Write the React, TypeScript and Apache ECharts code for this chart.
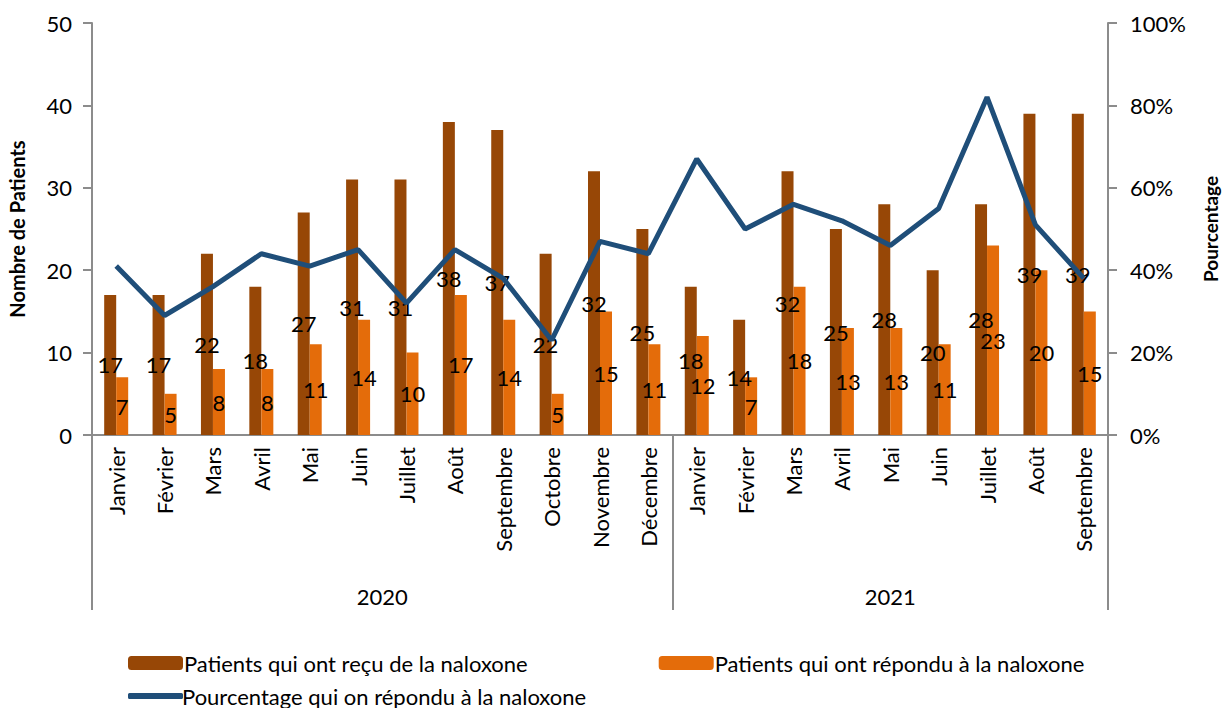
import React, { useEffect, useRef } from "react";
import * as echarts from "echarts";

const months = [
  "Janvier", "Février", "Mars", "Avril", "Mai", "Juin", "Juillet", "Août", "Septembre", "Octobre", "Novembre", "Décembre",
  "Janvier", "Février", "Mars", "Avril", "Mai", "Juin", "Juillet", "Août", "Septembre",
];
const years = ["2020", "2021"];
const yearStarts = [0, 12, 21];
const received = [17, 17, 22, 18, 27, 31, 31, 38, 37, 22, 32, 25, 18, 14, 32, 25, 28, 20, 28, 39, 39];
const responded = [7, 5, 8, 8, 11, 14, 10, 17, 14, 5, 15, 11, 12, 7, 18, 13, 13, 11, 23, 20, 15];
const percent = [41, 29, 36, 44, 41, 45, 32, 45, 38, 23, 47, 44, 67, 50, 56, 52, 46, 55, 82, 51, 38];

const FONT = "Lato";
const FS = 22;
const AXIS_GRAY = "#8c8c8c";

export default function App() {
  const ref = useRef<HTMLDivElement>(null);
  useEffect(() => {
    if (!ref.current) return;
    const chart = echarts.init(ref.current, null, { renderer: "svg" });
    const yearCenters = [
      (yearStarts[0] + yearStarts[1]) / 2,
      (yearStarts[1] + yearStarts[2]) / 2,
    ];
    const tickVals = [yearStarts[0] + 0.0001, yearStarts[1], yearStarts[2] - 0.0001];
    chart.setOption({
      animation: false,
      textStyle: { fontFamily: FONT, color: "#000" },
      grid: { left: 92, right: 116, top: 23, bottom: 273, containLabel: false, outerBoundsMode: "none" },
      legend: [
        {
          data: ["Patients qui ont reçu de la naloxone", "Patients qui ont répondu à la naloxone"],
          left: 123,
          top: 647,
          itemWidth: 55,
          itemHeight: 14,
          itemGap: 131,
          textStyle: { fontFamily: FONT, fontSize: FS, color: "#000", padding: [0, 0, 0, -4] },
        },
        {
          data: [
            {
              name: "Pourcentage qui on répondu à la naloxone",
              icon: "roundRect",
              itemStyle: { color: "#1F4E79" },
            },
          ],
          left: 123,
          top: 680,
          itemWidth: 55,
          itemHeight: 6,
          textStyle: { fontFamily: FONT, fontSize: FS, color: "#000", padding: [0, 0, 0, -6] },
        },
      ],
      xAxis: [
        {
          type: "category",
          data: months,
          position: "bottom",
          axisLine: { lineStyle: { color: AXIS_GRAY, width: 2 } },
          axisTick: { show: false },
          axisLabel: {
            rotate: 90,
            interval: 0,
            fontSize: FS,
            fontFamily: FONT,
            color: "#000",
            margin: 12,
          },
        },
        {
          type: "value",
          position: "bottom",
          min: 0,
          max: 21,
          axisLine: { show: false },
          splitLine: { show: false },
          axisTick: {
            show: true,
            inside: false,
            length: 175,
            customValues: tickVals,
            lineStyle: { color: AXIS_GRAY, width: 2 },
          },
          axisLabel: {
            margin: 150,
            customValues: yearCenters,
            fontSize: FS,
            fontFamily: FONT,
            color: "#000",
            formatter: (v: number) => (v < yearStarts[1] ? years[0] : years[1]),
          },
        },
      ],
      yAxis: [
        {
          type: "value",
          min: 0,
          max: 50,
          interval: 10,
          name: "Nombre de Patients",
          nameLocation: "middle",
          nameGap: 65,
          nameTextStyle: { fontFamily: FONT, fontSize: 20, fontWeight: "bold", color: "#000" },
          axisLine: { show: true, lineStyle: { color: AXIS_GRAY, width: 2 } },
          axisTick: { show: true, length: 9, lineStyle: { color: AXIS_GRAY, width: 2 } },
          splitLine: { show: false },
          axisLabel: { fontSize: FS, fontFamily: FONT, color: "#000", margin: 20 },
        },
        {
          type: "value",
          min: 0,
          max: 100,
          interval: 20,
          position: "right",
          name: "Pourcentage",
          nameLocation: "middle",
          nameGap: 93,
          nameRotate: 90,
          nameTextStyle: { fontFamily: FONT, fontSize: 19, fontWeight: "bold", color: "#000" },
          axisLine: { show: true, lineStyle: { color: AXIS_GRAY, width: 2 } },
          axisTick: { show: true, length: 9, lineStyle: { color: AXIS_GRAY, width: 2 } },
          splitLine: { show: false },
          axisLabel: { fontSize: FS, fontFamily: FONT, color: "#000", margin: 22, formatter: "{value}%" },
        },
      ],
      series: [
        {
          name: "Patients qui ont reçu de la naloxone",
          type: "bar",
          data: received,
          barWidth: 12,
          barGap: "0%",
          itemStyle: { color: "#974706" },
          label: { show: true, position: "inside", fontSize: FS, fontFamily: FONT, color: "#000" },
          z: 2,
        },
        {
          name: "Patients qui ont répondu à la naloxone",
          type: "bar",
          data: responded,
          barWidth: 12,
          barGap: "0%",
          itemStyle: { color: "#E46C0A" },
          label: { show: true, position: "inside", fontSize: FS, fontFamily: FONT, color: "#000" },
          z: 2,
        },
        {
          name: "Pourcentage qui on répondu à la naloxone",
          type: "line",
          yAxisIndex: 1,
          data: percent,
          showSymbol: false,
          symbol: "none",
          lineStyle: { color: "#1F4E79", width: 5 },
          itemStyle: { color: "#1F4E79" },
          z: 3,
        },
      ],
    });
    return () => chart.dispose();
  }, []);
  return <div ref={ref} style={{ width: 1224, height: 708, position: "absolute", left: 0, top: 0 }} />;
}
